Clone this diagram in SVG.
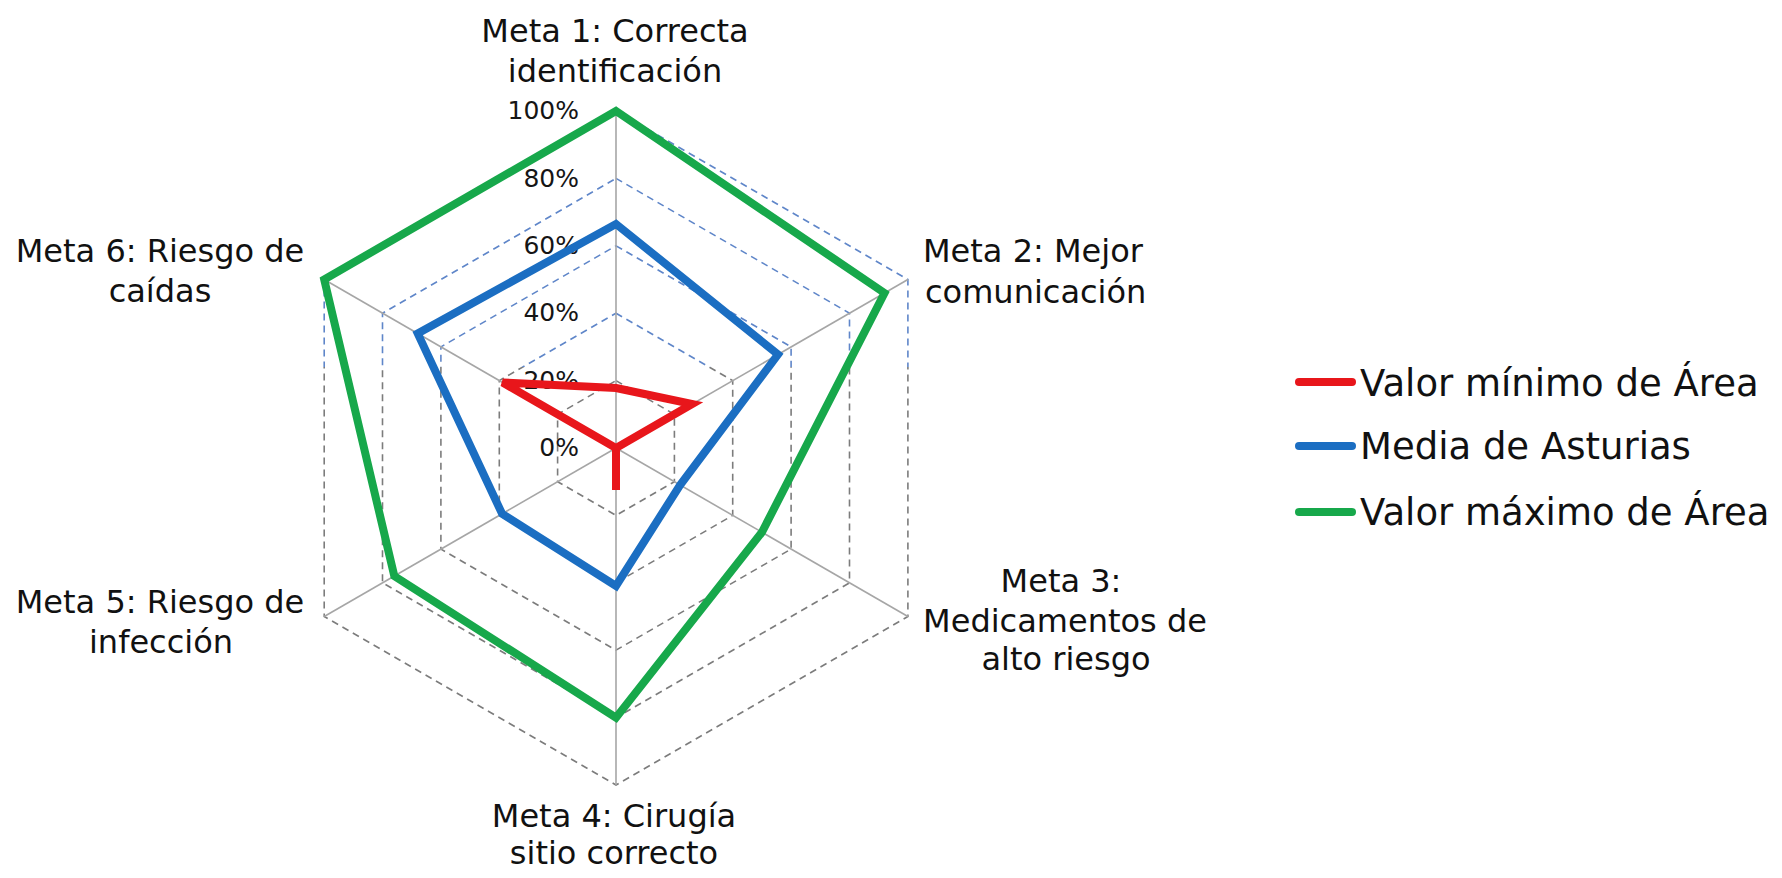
<svg xmlns="http://www.w3.org/2000/svg" width="1782" height="878" viewBox="0 0 1782 878">
<style>
.ring{fill:none;stroke-width:1.6;stroke-dasharray:7 5}
.ringB{stroke:#5f86c9}
.ringG{stroke:#7c7c7c}
.spoke{stroke:#a6a6a6;stroke-width:1.6;fill:none}
.ser{fill:none;stroke-width:8;stroke-linejoin:miter;stroke-miterlimit:4}
.cat{font-family:"DejaVu Sans",Verdana,sans-serif;font-size:32px;fill:#111111;text-anchor:middle}
.catL{font-family:"DejaVu Sans",Verdana,sans-serif;font-size:32px;fill:#111111;text-anchor:start}
.tick{font-family:"DejaVu Sans",Verdana,sans-serif;font-size:25px;fill:#151515;text-anchor:end}
.leg{font-family:"DejaVu Sans",Verdana,sans-serif;font-size:37px;fill:#111111}
.legline{stroke-width:8;stroke-linecap:round}
</style>
<defs>
<clipPath id="cTop"><rect x="0" y="0" width="1782" height="367"/></clipPath>
<clipPath id="cBot"><rect x="0" y="367" width="1782" height="511"/></clipPath>
<g id="rings">
<polygon class="ring" points="616,380.6 674.4,414.3 674.4,481.7 616,515.4 557.6,481.7 557.6,414.3"/>
<polygon class="ring" points="616,313.2 732.7,380.6 732.7,515.4 616,582.8 499.3,515.4 499.3,380.6"/>
<polygon class="ring" points="616,245.8 791.1,346.9 791.1,549.1 616,650.2 440.9,549.1 440.9,346.9"/>
<polygon class="ring" points="616,178.4 849.5,313.2 849.5,582.8 616,717.6 382.5,582.8 382.5,313.2"/>
<polygon class="ring" points="616,111 907.9,279.5 907.9,616.5 616,785 324.2,616.5 324.2,279.5"/>
</g>
</defs>
<rect width="1782" height="878" fill="#ffffff"/>
<g id="grid">
<use href="#rings" class="ringB" clip-path="url(#cTop)"/>
<use href="#rings" class="ringG" clip-path="url(#cBot)"/>
</g>
<g id="spokes">
<line class="spoke" x1="616" y1="448" x2="616" y2="111"/>
<line class="spoke" x1="616" y1="448" x2="907.9" y2="279.5"/>
<line class="spoke" x1="616" y1="448" x2="907.9" y2="616.5"/>
<line class="spoke" x1="616" y1="448" x2="616" y2="785"/>
<line class="spoke" x1="616" y1="448" x2="324.2" y2="616.5"/>
<line class="spoke" x1="616" y1="448" x2="324.2" y2="279.5"/>
</g>
<g id="ticks">
<text class="tick" x="579" y="119">100%</text>
<text class="tick" x="579" y="187">80%</text>
<text class="tick" x="579" y="254">60%</text>
<text class="tick" x="579" y="321">40%</text>
<text class="tick" x="579" y="389">20%</text>
<text class="tick" x="579" y="456">0%</text>
</g>
<g id="connectors">
<polygon id="serie-max" class="ser" stroke="#17a84b" points="616,111 884.5,293 761.9,532.3 616,717.6 394.3,576 324.2,279.5"/>
<polygon id="serie-media" class="ser" stroke="#1b6ec2" points="616,224 778,354.5 680.1,485 616,586 502.1,513.8 417.7,333.5"/>
<polygon id="serie-min" class="ser" stroke="#e8161b" points="616,388 692.2,404 616,448 616,490 616,448 502.6,382.5"/>
</g>
<g id="meta1"><text class="cat" x="615" y="42">Meta 1: Correcta</text><text class="cat" x="615" y="82">identificación</text></g>
<g id="meta2"><text class="catL" x="923" y="262">Meta 2: Mejor</text><text class="catL" x="925" y="303">comunicación</text></g>
<g id="meta3"><text class="cat" x="1061" y="592">Meta 3:</text><text class="cat" x="1065" y="632">Medicamentos de</text><text class="cat" x="1066" y="670">alto riesgo</text></g>
<g id="meta4"><text class="cat" x="614" y="827">Meta 4: Cirugía</text><text class="cat" x="614" y="864">sitio correcto</text></g>
<g id="meta5"><text class="cat" x="160" y="613">Meta 5: Riesgo de</text><text class="cat" x="161" y="653">infección</text></g>
<g id="meta6"><text class="cat" x="160" y="262">Meta 6: Riesgo de</text><text class="cat" x="160" y="302">caídas</text></g>
<g id="legend">
<line class="legline" x1="1299" y1="382" x2="1352" y2="382" stroke="#e8161b"/>
<text class="leg" x="1360" y="396">Valor mínimo de Área</text>
<line class="legline" x1="1299" y1="446" x2="1352" y2="446" stroke="#1b6ec2"/>
<text class="leg" x="1360" y="459">Media de Asturias</text>
<line class="legline" x1="1299" y1="512" x2="1352" y2="512" stroke="#17a84b"/>
<text class="leg" x="1360" y="525">Valor máximo de Área</text>
</g>
</svg>
